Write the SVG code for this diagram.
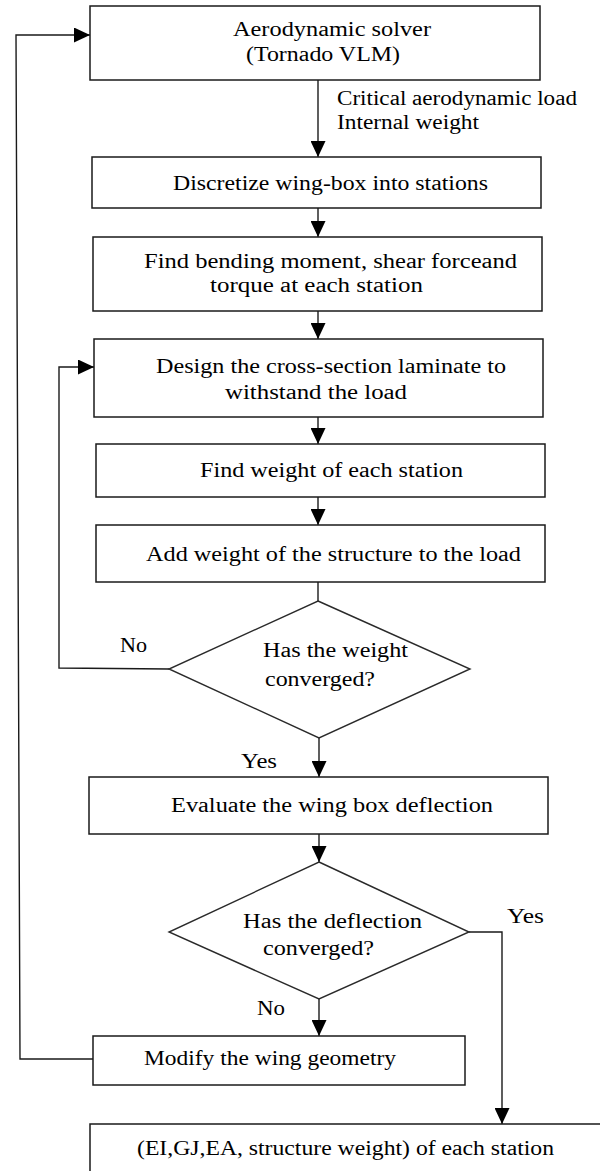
<svg xmlns="http://www.w3.org/2000/svg" width="600" height="1171" viewBox="0 0 600 1171">
<style>
.box{fill:#fff;stroke:#1a1a1a;stroke-width:1.5}
.dia{fill:#fff;stroke:#2a2a2a;stroke-width:1.4}
.ln{fill:none;stroke:#1a1a1a;stroke-width:1.4}
.arr{marker-end:url(#ah)}
text{font-family:"Liberation Serif","Times New Roman",serif;font-size:20px;fill:#000}
</style>
<defs>
<marker id="ah" markerUnits="userSpaceOnUse" markerWidth="16" markerHeight="15" refX="16" refY="7.5" orient="auto">
<path d="M0,0 L16,7.5 L0,15 z" fill="#000"/>
</marker>
</defs>
<rect width="600" height="1171" fill="#fff"/>
<g id="connectors">
<line class="ln arr" x1="318" y1="80" x2="318" y2="157"/>
<line class="ln arr" x1="318" y1="208" x2="318" y2="237"/>
<line class="ln arr" x1="318" y1="311" x2="318" y2="339"/>
<line class="ln arr" x1="318" y1="417" x2="318" y2="444"/>
<line class="ln arr" x1="318" y1="497" x2="318" y2="525"/>
<line class="ln" x1="318" y1="582" x2="318" y2="601"/>
<polyline class="ln arr" points="169,669 59,668 59,367 94,367"/>
<line class="ln arr" x1="319" y1="738" x2="319" y2="777"/>
<line class="ln arr" x1="319" y1="834" x2="319" y2="862"/>
<line class="ln arr" x1="319" y1="999" x2="319" y2="1036"/>
<polyline class="ln arr" points="469,932 502,932 502,1124"/>
<polyline class="ln arr" points="93,1059 20,1059 16,35 90,35"/>
<text x="337" y="105" textLength="240" lengthAdjust="spacingAndGlyphs">Critical aerodynamic load</text>
<text x="337" y="129" textLength="142" lengthAdjust="spacingAndGlyphs">Internal weight</text>
<text x="120" y="652" textLength="27" lengthAdjust="spacingAndGlyphs">No</text>
<text x="241" y="768" textLength="36" lengthAdjust="spacingAndGlyphs">Yes</text>
<text x="507" y="923" textLength="37" lengthAdjust="spacingAndGlyphs">Yes</text>
<text x="257" y="1015" textLength="28" lengthAdjust="spacingAndGlyphs">No</text>
</g>
<g id="aero">
<rect class="box" x="90" y="6" width="450" height="74"/>
<text x="233" y="36" textLength="198" lengthAdjust="spacingAndGlyphs">Aerodynamic solver</text>
<text x="246" y="61" textLength="154" lengthAdjust="spacingAndGlyphs">(Tornado VLM)</text>
</g>
<g id="discretize">
<rect class="box" x="92" y="157" width="449" height="51"/>
<text x="173" y="190" textLength="315" lengthAdjust="spacingAndGlyphs">Discretize wing-box into stations</text>
</g>
<g id="bending">
<rect class="box" x="93" y="237" width="449" height="74"/>
<text x="144" y="268" textLength="373" lengthAdjust="spacingAndGlyphs">Find bending moment, shear forceand</text>
<text x="210" y="292" textLength="213" lengthAdjust="spacingAndGlyphs">torque at each station</text>
</g>
<g id="design">
<rect class="box" x="94" y="339" width="449" height="78"/>
<text x="156" y="373" textLength="350" lengthAdjust="spacingAndGlyphs">Design the cross-section laminate to</text>
<text x="225" y="399" textLength="182" lengthAdjust="spacingAndGlyphs">withstand the load</text>
</g>
<g id="findweight">
<rect class="box" x="96" y="444" width="449" height="53"/>
<text x="200" y="477" textLength="263" lengthAdjust="spacingAndGlyphs">Find weight of each station</text>
</g>
<g id="addweight">
<rect class="box" x="96" y="525" width="449" height="57"/>
<text x="146" y="561" textLength="375" lengthAdjust="spacingAndGlyphs">Add weight of the structure to the load</text>
</g>
<g id="weightconv">
<polygon class="dia" points="318,601 470,669 319,738 169,669"/>
<text x="263" y="657" textLength="145" lengthAdjust="spacingAndGlyphs">Has the weight</text>
<text x="265" y="686" textLength="110" lengthAdjust="spacingAndGlyphs">converged?</text>
</g>
<g id="evaluate">
<rect class="box" x="89" y="777" width="459" height="57"/>
<text x="171" y="812" textLength="322" lengthAdjust="spacingAndGlyphs">Evaluate the wing box deflection</text>
</g>
<g id="deflconv">
<polygon class="dia" points="319,862 469,932 319,999 169,932"/>
<text x="243" y="928" textLength="179" lengthAdjust="spacingAndGlyphs">Has the deflection</text>
<text x="263" y="955" textLength="111" lengthAdjust="spacingAndGlyphs">converged?</text>
</g>
<g id="modify">
<rect class="box" x="93" y="1036" width="372" height="49"/>
<text x="144" y="1065" textLength="252" lengthAdjust="spacingAndGlyphs">Modify the wing geometry</text>
</g>
<g id="output">
<rect class="box" x="90" y="1124" width="540" height="80"/>
<text x="137" y="1155" textLength="417" lengthAdjust="spacingAndGlyphs">(EI,GJ,EA, structure weight) of each station</text>
</g>
</svg>
